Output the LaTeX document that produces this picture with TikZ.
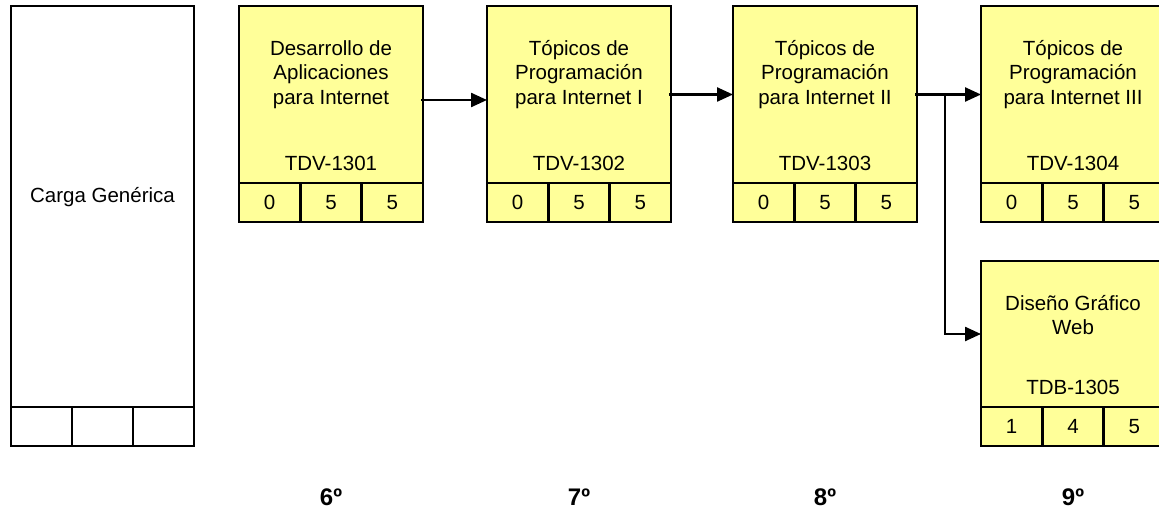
\documentclass[tikz,border=0pt]{standalone}
\usepackage{fontspec}
\setmainfont{Liberation Sans}
\usetikzlibrary{arrows.meta}
\definecolor{cy}{HTML}{FFFF99}
\tikzset{
 crsbody/.style={draw, line width=2.4pt, fill=cy, minimum width=184pt, inner sep=0pt, outer sep=0pt},
 cellbox/.style={draw, line width=2.4pt, fill=cy, minimum width=61.333pt, minimum height=39pt, inner sep=0pt, outer sep=0pt, font=\fontsize{20.5}{24}\selectfont},
 crstitle/.style={anchor=north, align=center, inner sep=0pt, font=\fontsize{20.5}{24.5}\selectfont},
 crscode/.style={anchor=base, inner sep=0pt, font=\fontsize{20.5}{24}\selectfont},
 arr/.style={line width=2.4pt, -{Triangle[length=16pt,width=14pt]}},
 sem/.style={anchor=base, inner sep=0pt, font=\fontsize{24}{28}\selectfont\bfseries},
}
\newcommand{\course}[9]{%
 \node[crsbody, minimum height=#4pt, anchor=north west] (#1) at (#2,#3) {};
 \node[crstitle] (#1t) at ({#2+92},{#3+33}) {\rule{0pt}{16pt}#5};
 \node[crscode] (#1k) at ({#2+92},{#3+#4-13}) {#6};
 \node[cellbox, anchor=north west] (#1a) at (#1.south west) {#7};
 \node[cellbox, anchor=north west] (#1b) at (#1a.north east) {#8};
 \node[cellbox, anchor=north west] (#1c) at (#1b.north east) {#9};
}
\begin{document}
\begin{tikzpicture}[x=1pt,y=-1pt]
\clip (0,0) rectangle (1159,516);
\fill[white] (0,0) rectangle (1159,516);
% generic load box
\node[crsbody, fill=white, minimum width=183pt, minimum height=401pt, anchor=north west] (gen) at (11,6) {};
\node[crscode] (gent) at (102.5,202) {Carga Genérica};
\node[cellbox, fill=white, minimum width=61pt, anchor=north west] (gena) at (gen.south west) {};
\node[cellbox, fill=white, minimum width=61pt, anchor=north west] (genb) at (gena.north east) {};
\node[cellbox, fill=white, minimum width=61pt, anchor=north west] (genc) at (genb.north east) {};
% courses
\course{c1}{239}{6}{177}{Desarrollo de\\Aplicaciones\\para Internet}{TDV-1301}{0}{5}{5}
\course{c2}{487}{6}{177}{Tópicos de\\Programación\\para Internet I}{TDV-1302}{0}{5}{5}
\course{c3}{733}{6}{177}{Tópicos de\\Programación\\para Internet II}{TDV-1303}{0}{5}{5}
\course{c4}{981}{6}{177}{Tópicos de\\Programación\\para Internet III}{TDV-1304}{0}{5}{5}
\course{c5}{981}{261}{146}{Diseño Gráfico\\Web}{TDB-1305}{1}{4}{5}
% connectors
\draw[arr] ([xshift=-2pt,yshift=-5.5pt]c1.east) -- ([yshift=-5.5pt]c2.west);
\draw[arr] ([xshift=-2pt]c2.east) -- (c3.west);
\draw[arr] ([xshift=-2pt]c3.east) -- (c4.west);
\coordinate (br) at (945,94.5);
\draw[arr] (br) |- (c5.west);
% semesters
\node[sem] (s6) at (331,505) {6º};
\node[sem] (s7) at (579,505) {7º};
\node[sem] (s8) at (825,505) {8º};
\node[sem] (s9) at (1073,505) {9º};
\end{tikzpicture}
\end{document}
